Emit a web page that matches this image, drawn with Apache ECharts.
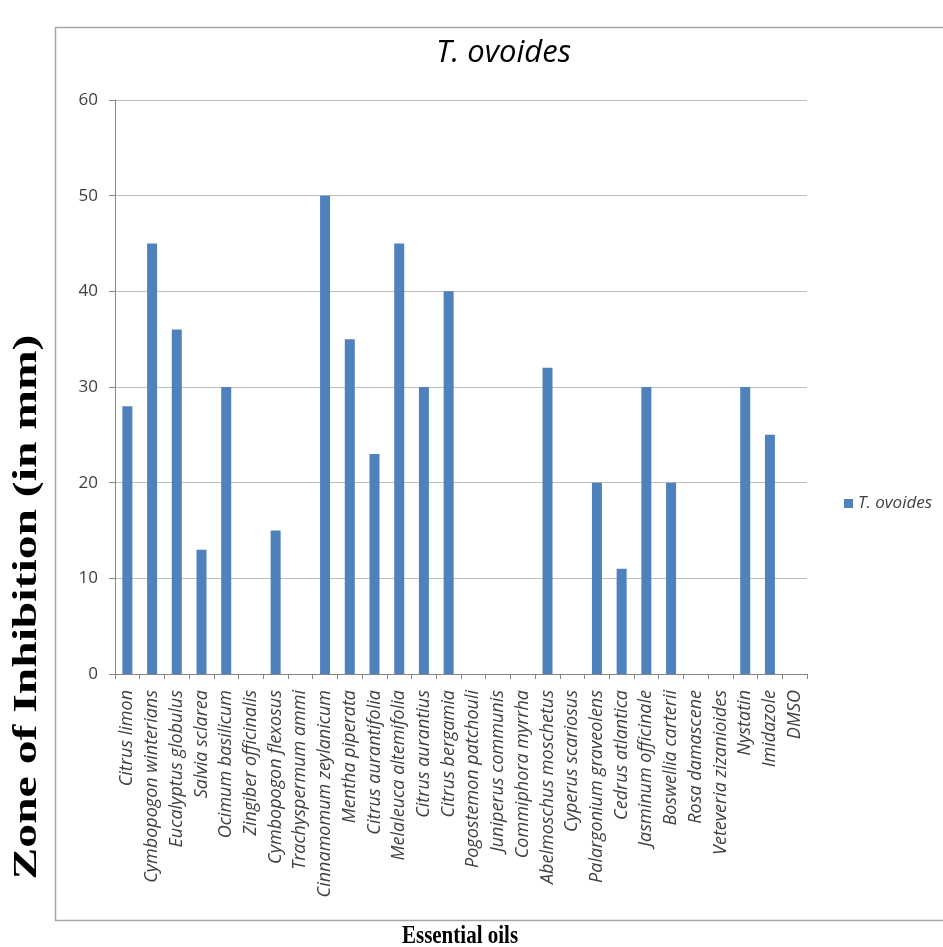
<!DOCTYPE html>
<html>
<head>
<meta charset="utf-8">
<script src="https://cdn.jsdelivr.net/npm/echarts@6/dist/echarts.min.js"></script>
<style>
html,body{margin:0;padding:0;background:#fff;}
#chart{width:943px;height:947px;}
</style>
</head>
<body>
<div id="chart"></div>
<script>
const categories = [
  'Citrus limon','Cymbopogon winterians','Eucalyptus globulus','Salvia sclarea','Ocimum basilicum',
  'Zingiber officinalis','Cymbopogon flexosus','Trachyspermum ammi','Cinnamomum zeylanicum','Mentha piperata',
  'Citrus aurantifolia','Melaleuca altemifolia','Citrus aurantius','Citrus bergamia','Pogostemon patchouli',
  'Juniperus communis','Commiphora myrrha','Abelmoschus moschetus','Cyperus scariosus','Palargonium graveolens',
  'Cedrus atlantica','Jasminum officinale','Boswellia carterii','Rosa damascene','Veteveria zizanioides',
  'Nystatin','Imidazole','DMSO'
];
const seriesName = 'T. ovoides';
const values = [28,45,36,13,30,0,15,0,50,35,23,45,30,40,0,0,0,32,0,20,11,30,20,0,0,30,25,0];
const yTicks = [0,10,20,30,40,50,60];
const chartTitle = 'T. ovoides';
const yTitle = 'Zone of Inhibition (in mm)';
const xTitle = 'Essential oils';

const chart = echarts.init(document.getElementById('chart'));
chart.setOption({
  animation: false,
  backgroundColor: '#ffffff',
  title: {
    text: chartTitle,
    left: 431, top: 33,
    textStyle: {fontFamily: 'Open Sans', fontStyle: 'italic', fontWeight: 'normal', fontSize: 31, color: '#000'}
  },
  legend: {
    data: [seriesName],
    left: 839, top: 490,
    icon: 'rect', itemWidth: 9, itemHeight: 9, itemGap: 6,
    textStyle: {fontFamily: 'Open Sans', fontStyle: 'italic', fontSize: 17, color: '#404040'}
  },
  grid: {left: 115, right: 136, top: 100, bottom: 273, containLabel: false},
  xAxis: {
    type: 'category',
    data: categories,
    boundaryGap: true,
    axisLine: {show: true, lineStyle: {color: '#868686', width: 1}},
    axisTick: {show: true, alignWithLabel: false, length: 5, lineStyle: {color: '#868686'}},
    axisLabel: {
      interval: 0, rotate: 90, margin: 16,
      fontFamily: 'Open Sans', fontStyle: 'italic', fontSize: 18, color: '#404040'
    },
    splitLine: {show: false}
  },
  yAxis: {
    type: 'value',
    min: yTicks[0], max: yTicks[yTicks.length - 1], interval: 10,
    axisLine: {show: true, lineStyle: {color: '#868686', width: 1}},
    axisTick: {show: true, length: 6, lineStyle: {color: '#868686'}},
    axisLabel: {margin: 17, fontFamily: 'Open Sans', fontSize: 17, color: '#404040'},
    splitLine: {show: true, lineStyle: {color: '#bcbcbc', width: 1.2}}
  },
  graphic: [
    {
      type: 'rect', silent: true, z: -1,
      shape: {x: 55.5, y: 27.5, width: 900, height: 893},
      style: {fill: 'none', stroke: '#a6a6a6', lineWidth: 1.5}
    },
    {
      type: 'text', x: 27, y: 607, rotation: Math.PI / 2, scaleX: 1.4, scaleY: 1,
      style: {
        text: yTitle, fontFamily: 'Liberation Serif', fontWeight: 'bold', fontSize: 34,
        fill: '#000', align: 'center', verticalAlign: 'middle'
      }
    },
    {
      type: 'text', x: 460, y: 936, scaleX: 1, scaleY: 1.2,
      style: {
        text: xTitle, fontFamily: 'Liberation Serif', fontWeight: 'bold', fontSize: 21,
        fill: '#000', align: 'center', verticalAlign: 'middle'
      }
    }
  ],
  series: [{
    name: seriesName,
    type: 'bar',
    data: values,
    barWidth: 10,
    itemStyle: {color: '#4F81BD', borderWidth: 0}
  }]
});
</script>
</body>
</html>
